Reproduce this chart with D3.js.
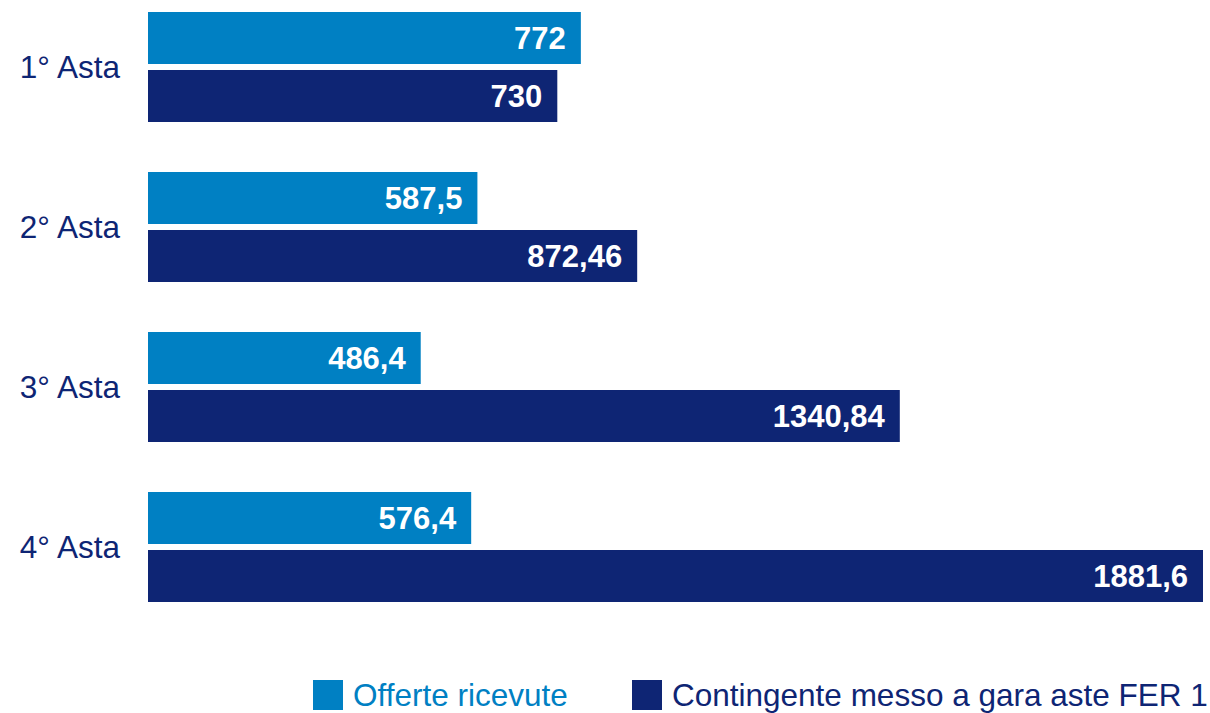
<!DOCTYPE html>
<html lang="it">
<head>
  <meta charset="UTF-8">
  <title>Aste FER 1</title>
  <style>
    body { margin: 0; background: #fff; }
    svg { display: block; font-family: "Liberation Sans", Arial, sans-serif; }
  </style>
</head>
<body>
  <svg width="1210" height="713"></svg>
  <script src="https://d3js.org/d3.v7.min.js"></script>
  <script>
    // dati
    const categories = ["1° Asta", "2° Asta", "3° Asta", "4° Asta"];
    const series = ["Offerte ricevute", "Contingente messo a gara aste FER 1"];
    const offerte = [772, 587.5, 486.4, 576.4];
    const contingente = [730, 872.46, 1340.84, 1881.6];
    const colors = ["#0080c3", "#0e2574"];

    const rows = categories.map((c, i) => ({ cat: c, values: [offerte[i], contingente[i]] }));

    const svg = d3.select("svg");
    const fmt = v => String(v).replace(".", ",");

    const x = d3.scaleLinear().domain([0, 1881.6]).range([148, 1203]);
    const y = d3.scaleBand().domain(categories).range([12, 602]).paddingInner(50 / 160).paddingOuter(0);
    const ySub = d3.scaleBand().domain(d3.range(series.length)).range([0, y.bandwidth()]).paddingInner(6 / 58);

    // etichette categorie
    svg.append("g")
      .selectAll("text")
      .data(categories)
      .join("text")
      .attr("x", 120)
      .attr("y", d => y(d) + y.bandwidth() / 2)
      .attr("dy", "0.35em")
      .attr("text-anchor", "end")
      .attr("fill", "#0e2574")
      .style("font-size", "31.5px")
      .text(d => d);

    const group = svg.append("g")
      .selectAll("g")
      .data(rows)
      .join("g")
      .attr("transform", d => `translate(0,${y(d.cat)})`);

    const bars = group.selectAll("g")
      .data(d => d.values.map((v, i) => ({ v, i })))
      .join("g");

    bars.append("rect")
      .attr("x", x(0))
      .attr("y", d => ySub(d.i))
      .attr("width", d => x(d.v) - x(0))
      .attr("height", ySub.bandwidth())
      .attr("fill", d => colors[d.i]);

    bars.append("text")
      .attr("x", d => x(d.v) - 15)
      .attr("y", d => ySub(d.i) + ySub.bandwidth() / 2)
      .attr("dy", "0.36em")
      .attr("text-anchor", "end")
      .attr("fill", "#fff")
      .style("font-size", "31px")
      .style("font-weight", "bold")
      .text(d => fmt(d.v));

    // legenda
    const legendX = [313, 632];
    const legend = svg.append("g")
      .selectAll("g")
      .data(series)
      .join("g")
      .attr("transform", (d, i) => `translate(${legendX[i]},680)`);

    legend.append("rect")
      .attr("width", 30)
      .attr("height", 30)
      .attr("fill", (d, i) => colors[i]);

    legend.append("text")
      .attr("x", 40)
      .attr("y", 15)
      .attr("dy", "0.36em")
      .attr("fill", (d, i) => colors[i])
      .style("font-size", "31.5px")
      .text(d => d);
  </script>
</body>
</html>
